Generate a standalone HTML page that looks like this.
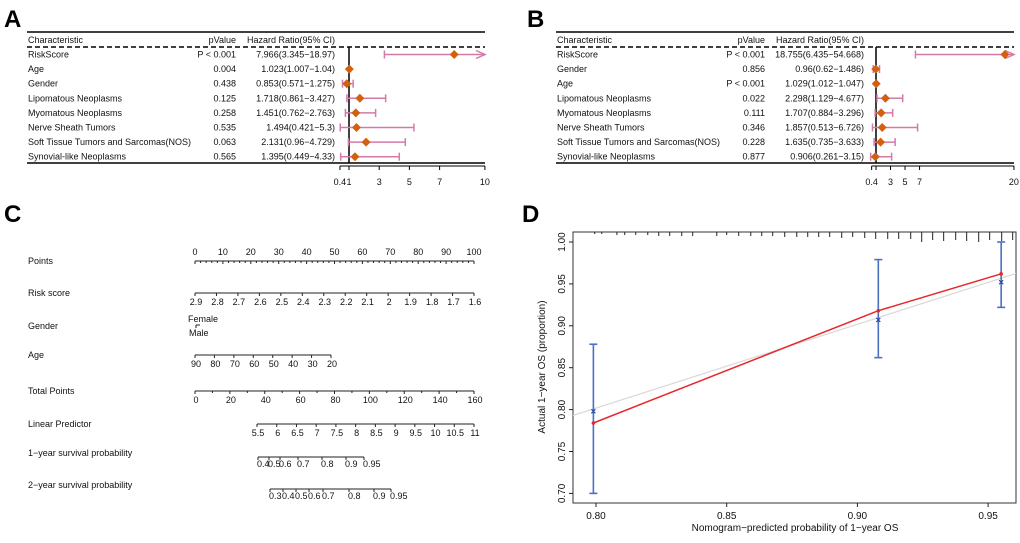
<!DOCTYPE html>
<html><head><meta charset="utf-8"><style>
body{margin:0;background:#fff;width:1020px;height:538px;overflow:hidden}
svg{font-family:"Liberation Sans",Arial,sans-serif}
</style></head><body>
<svg id="fig" width="1020" height="538" viewBox="0 0 1020 538">
<text x="4" y="27" font-size="24" font-weight="bold">A</text>
<text x="527" y="27" font-size="24" font-weight="bold">B</text>
<text x="4" y="222" font-size="24" font-weight="bold">C</text>
<text x="522" y="222" font-size="24" font-weight="bold">D</text>
<g id="pa"></g>
<g id="pb"></g>
<g id="pc"></g>
<g id="pd"></g>
</svg>
<script>
// ---- Forest A data
const aNames=["RiskScore","Age","Gender","Lipomatous Neoplasms","Myomatous Neoplasms","Nerve Sheath Tumors","Soft Tissue Tumors and Sarcomas(NOS)","Synovial-like Neoplasms"];
const aP=["P < 0.001","0.004","0.438","0.125","0.258","0.535","0.063","0.565"];
const aHR=[7.966,1.023,0.853,1.718,1.451,1.494,2.131,1.395];
const aLo=[3.345,1.007,0.571,0.861,0.762,0.421,0.96,0.449];
const aHi=[18.97,1.04,1.275,3.427,2.763,5.3,4.729,4.33];
const aTicks=[0.4,1,3,5,7,10];
const aTickLabels=["0.4","1","3","5","7","10"];
// ---- Forest B data
const bNames=["RiskScore","Gender","Age","Lipomatous Neoplasms","Myomatous Neoplasms","Nerve Sheath Tumors","Soft Tissue Tumors and Sarcomas(NOS)","Synovial-like Neoplasms"];
const bP=["P < 0.001","0.856","P < 0.001","0.022","0.111","0.346","0.228","0.877"];
const bHR=[18.755,0.96,1.029,2.298,1.707,1.857,1.635,0.906];
const bLo=[6.435,0.62,1.012,1.129,0.884,0.513,0.735,0.261];
const bHi=[54.668,1.486,1.047,4.677,3.296,6.726,3.633,3.15];
const bTicks=[0.4,1,3,5,7,20];
const bTickLabels=["0.4","","3","5","7","20"];
// ---- Calibration data
const calPred=[0.799,0.908,0.955];
const calObs=[0.784,0.918,0.962];
const calCorr=[0.798,0.907,0.952];
const calLo=[0.700,0.862,0.922];
const calHi=[0.878,0.979,1.000];
const xTicksD=[0.80,0.85,0.90,0.95];
const yTicksD=[0.70,0.75,0.80,0.85,0.90,0.95,1.00];
const rugX=[0.7995,0.8022,0.8080,0.8110,0.8152,0.8198,0.8240,0.8282,0.8328,0.8370,0.8462,0.8500,0.8546,0.8592,0.8634,0.8676,0.8722,0.8768,0.8810,0.8852,0.8894,0.8940,0.8982,0.9028,0.9070,0.9116,0.9158,0.9204,0.9246,0.9288,0.9330,0.9376,0.9418,0.9464,0.9506,0.9552,0.9594,0.9640];
const rugLen=[2,2,3,3,3,3,4,4,4,4,4,3,4,4,4,4,5,5,5,5,5,6,5,6,7,7,7,7,10,8,9,8,9,10,8,9,8,10];

const NS="http://www.w3.org/2000/svg";
function mk(p,tag,at){const e=document.createElementNS(NS,tag);for(const k in at)e.setAttribute(k,at[k]);p.appendChild(e);return e;}
function txt(p,x,y,s,fs,anchor){const t=mk(p,"text",{x:x,y:y,"font-size":fs||9,"text-anchor":anchor||"start",fill:"#111"});t.textContent=s;return t;}

function forest(g,L,R,vx,x0,scale,xmax,names,pv,hr,lo,hi,ticks,tl,pR,hR){
  const line=(x1,y1,x2,y2,w,col,da)=>{const l=mk(g,"line",{x1:x1,y1:y1,x2:x2,y2:y2,stroke:col||"#000","stroke-width":w||1});if(da)l.setAttribute("stroke-dasharray",da);return l;};
  line(L,32,R,32,1.5);
  const d=line(L,47,R,47,1.5,"#000","5,3");
  
  
  line(L,163,R,163,1.5);
  let t=txt(g,L+1,43,"Characteristic");
  
  
  t=txt(g,pR,43,"pValue",9,"end");
  
  
  t=txt(g,hR,43,"Hazard Ratio(95% CI)",9,"end");
  
  
  const X=v=>x0+(v-1)*scale;
  line(X(1),47,X(1),163,1.5);
  line(X(ticks[0]),166,R,166,1);
  ticks.forEach((v,i)=>{line(X(v),166,X(v),170,1);
    const tt=txt(g,X(v),185,tl[i],9,"middle");
    
    });
  names.forEach((n,i)=>{
    const y=54.5+i*14.6;
    const r=mk(g,"g",{});
    
    
    txt(r,L+1,y+3,n);
    txt(r,pR,y+3,pv[i],9,"end");
    txt(r,hR,y+3,hr[i]+"("+lo[i]+"\u2212"+hi[i]+")",9,"end");
    const a=X(lo[i]), bRaw=X(hi[i]), clip=hi[i]>xmax, b=clip?R:bRaw;
    mk(r,"line",{x1:a,y1:y,x2:b,y2:y,stroke:"#d27aa8","stroke-width":1.5});
    mk(r,"line",{x1:a,y1:y-4,x2:a,y2:y+4,stroke:"#d27aa8","stroke-width":1.5});
    if(clip) mk(r,"polyline",{points:(b-9)+","+(y-4)+" "+b+","+y+" "+(b-9)+","+(y+4),fill:"none",stroke:"#d27aa8","stroke-width":1.5});
    else mk(r,"line",{x1:b,y1:y-4,x2:b,y2:y+4,stroke:"#d27aa8","stroke-width":1.5});
    const c=X(hr[i]);
    const dm=mk(r,"polygon",{points:(c-4.5)+","+y+" "+c+","+(y-4.5)+" "+(c+4.5)+","+y+" "+c+","+(y+4.5),fill:"#d2600f"});
    
    
  });
}
forest(document.getElementById("pa"),27,485,349,349,15.1,10,aNames,aP,aHR,aLo,aHi,aTicks,aTickLabels,236,335);
forest(document.getElementById("pb"),556,1014,876,876,7.26,20,bNames,bP,bHR,bLo,bHi,bTicks,bTickLabels,765,864);

// ---- Nomogram
const nomoRows=[
 {name:"Points",y:261,x1:195,x2:474,labels:["0","10","20","30","40","50","60","70","80","90","100"],above:true,minor:5},
 {name:"Risk score",y:293,x1:195,x2:474,labels:["2.9","2.8","2.7","2.6","2.5","2.4","2.3","2.2","2.1","2","1.9","1.8","1.7","1.6"],minor:0},
 {name:"Age",y:355,x1:195,x2:331,labels:["90","80","70","60","50","40","30","20"],minor:0},
 {name:"Total Points",y:391,x1:195,x2:474,labels:["0","20","40","60","80","100","120","140","160"],minor:2},
 {name:"Linear Predictor",y:424,x1:257,x2:474,labels:["5.5","6","6.5","7","7.5","8","8.5","9","9.5","10","10.5","11"],minor:0}
];
const surv1=["0.4","0.5","0.6","0.7","0.8","0.9","0.95"];
const surv1x=[258,269,280,298,322,346,364];
const surv2=["0.3","0.4","0.5","0.6","0.7","0.8","0.9","0.95"];
const surv2x=[270,283,296,309,323,349,374,391];
const pc=document.getElementById("pc");
function seg(p,x1,y1,x2,y2){mk(p,"line",{x1:x1,y1:y1,x2:x2,y2:y2,stroke:"#222","stroke-width":1});}
nomoRows.forEach(r=>{
  const g=mk(pc,"g",{});
  
  
  txt(g,28,r.y+3,r.name);
  seg(g,r.x1,r.y,r.x2,r.y);
  const n=r.labels.length-1;
  r.labels.forEach((l,i)=>{const x=r.x1+(r.x2-r.x1)*i/n;
    if(r.above){seg(g,x,r.y,x,r.y+3);txt(g,x,r.y-6,l,9,"middle");}
    else{seg(g,x,r.y,x,r.y+3);txt(g,x+1,r.y+12,l,9,"middle");}
    if(i<n){const k=r.minor||1;for(let j=1;j<k;j++){const xm=x+(r.x2-r.x1)/n*j/k;seg(g,xm,r.y,xm,r.y+2);}}
  });
});
(function(){const g=mk(pc,"g",{});
 
 
 txt(g,28,329,"Gender");txt(g,188,322,"Female");txt(g,189,336,"Male");
 seg(g,196,325,200,325);seg(g,196,325,196,328);})();
[[457,"1\u2212year survival probability",surv1,surv1x],[489,"2\u2212year survival probability",surv2,surv2x]].forEach(([y,nm,lab,xs])=>{
  const g=mk(pc,"g",{});
  
  
  txt(g,28,y-1,nm);
  seg(g,xs[0],y,xs[xs.length-1],y);
  lab.forEach((l,i)=>{seg(g,xs[i],y,xs[i],y+3);txt(g,xs[i]-1,y+10,l,9,"start");});
});

// ---- Calibration
const pd=document.getElementById("pd");
const PL=573,PR=1016,PT=232,PB=503;
const X=v=>596+(v-0.80)/0.05*130.7;
const Y=v=>242+(1.00-v)/0.05*41.9;
mk(pd,"rect",{x:PL,y:PT,width:PR-PL,height:PB-PT,fill:"none",stroke:"#333","stroke-width":1});
xTicksD.forEach(v=>{seg(pd,X(v),PB,X(v),PB+4);const t=txt(pd,X(v),PB+16,v.toFixed(2),10,"middle");
  
  });
yTicksD.forEach(v=>{seg(pd,PL-4,Y(v),PL,Y(v));const t=mk(pd,"text",{x:0,y:0,"font-size":10,"text-anchor":"middle",fill:"#111",transform:"translate("+(PL-8)+","+Y(v)+") rotate(-90)"});t.textContent=v.toFixed(2);
  
  });
rugX.forEach((v,i)=>{const r=mk(pd,"line",{x1:X(v),y1:PT,x2:X(v),y2:PT+rugLen[i],stroke:"#222","stroke-width":1});
  
  });
const ideal=mk(pd,"line",{x1:PL,y1:Y(0.793),x2:PR,y2:Y(0.793+(PR-PL)/2614),stroke:"#d8d8d8","stroke-width":1.2});


const ol=mk(pd,"polyline",{points:calPred.map((p,i)=>X(p)+","+Y(calObs[i])).join(" "),fill:"none",stroke:"#e8262a","stroke-width":1.5});


calPred.forEach((p,i)=>{
  const x=X(p);
  const g=mk(pd,"g",{stroke:"#4a72c4","stroke-width":1.6});
  
  
  mk(g,"line",{x1:x,y1:Y(calLo[i]),x2:x,y2:Y(calHi[i])});
  mk(g,"line",{x1:x-4,y1:Y(calLo[i]),x2:x+4,y2:Y(calLo[i])});
  mk(g,"line",{x1:x-4,y1:Y(calHi[i]),x2:x+4,y2:Y(calHi[i])});
  const cy=Y(calCorr[i]);
  mk(pd,"path",{d:"M"+(x-2)+","+(cy-2)+"L"+(x+2)+","+(cy+2)+"M"+(x+2)+","+(cy-2)+"L"+(x-2)+","+(cy+2),stroke:"#2a4fa8","stroke-width":1.2});
  const c=mk(pd,"circle",{cx:x,cy:Y(calObs[i]),r:1.8,fill:"#e8262a"});
  
  
});
let yl=mk(pd,"text",{x:0,y:0,"font-size":10,"text-anchor":"middle",fill:"#111",transform:"translate(545,367) rotate(-90)"});
yl.textContent="Actual 1\u2212year OS (proportion)";


let xl=txt(pd,795,531,"Nomogram\u2212predicted probability of 1\u2212year OS",10,"middle");


</script>
</body></html>
